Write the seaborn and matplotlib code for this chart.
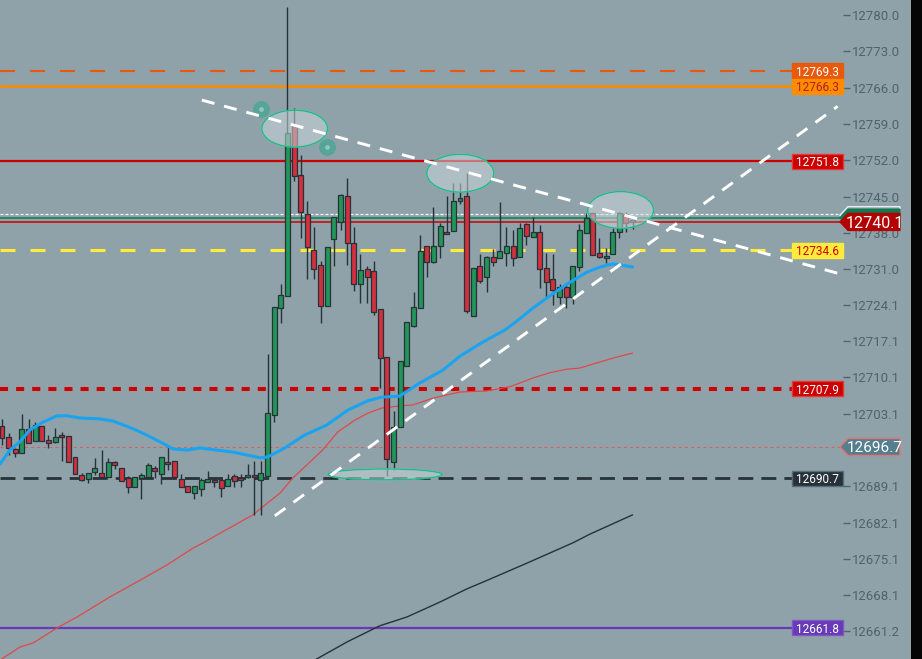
import numpy as np
import pandas as pd
import matplotlib
matplotlib.use("Agg")
import matplotlib.pyplot as plt
import matplotlib.transforms as mtransforms
from matplotlib.patches import Ellipse, Rectangle, Polygon
import seaborn as sns

# Candles (one per bar, left to right)
opens = [12700.7, 12698.6, 12696.3, 12695.5, 12700.2, 12697.8, 12700.7, 12697.8, 12697.7, 12699.0,
         12698.8, 12694.8, 12691.3, 12690.5, 12691.9, 12691.7, 12690.9, 12693.8, 12692.6, 12690.7,
         12689.0, 12690.7, 12690.9, 12692.6, 12691.5, 12693.8, 12694.0, 12690.5, 12689.2, 12687.8,
         12688.6, 12689.9, 12690.3, 12690.3, 12689.2, 12691.1, 12690.7, 12690.9, 12691.3, 12690.3,
         12691.1, 12702.9, 12723.5, 12725.8, 12758.6, 12749.1, 12741.6, 12734.7, 12731.8, 12723.9,
         12736.8, 12740.1, 12745.1, 12736.0, 12728.1, 12731.0, 12730.6, 12723.3, 12714.0, 12693.8,
         12700.5, 12712.3, 12720.0, 12723.5, 12735.4, 12732.4, 12735.4, 12738.1, 12738.3, 12744.1,
         12745.1, 12722.0, 12731.6, 12729.5, 12733.3, 12733.1, 12734.1, 12735.4, 12733.3, 12739.7,
         12737.2, 12738.1, 12731.2, 12729.1, 12725.6, 12727.5, 12725.6, 12731.4, 12738.0, 12741.8,
         12734.1, 12733.1, 12733.9, 12738.1, 12741.6, 12740.4]
highs = [12702.1, 12699.4, 12696.5, 12703.1, 12702.1, 12701.5, 12700.7, 12699.0, 12700.4, 12699.6,
         12698.8, 12694.8, 12691.7, 12691.7, 12694.6, 12696.1, 12694.6, 12694.0, 12692.6, 12691.1,
         12690.9, 12691.7, 12693.6, 12693.0, 12694.8, 12696.9, 12694.0, 12691.5, 12689.2, 12689.2,
         12690.7, 12692.1, 12690.7, 12690.5, 12691.5, 12691.5, 12691.5, 12693.4, 12694.0, 12694.0,
         12714.6, 12723.7, 12728.1, 12781.5, 12762.1, 12753.0, 12744.1, 12739.1, 12732.6, 12735.3,
         12741.0, 12745.5, 12748.6, 12739.1, 12733.9, 12731.6, 12732.6, 12723.3, 12714.0, 12703.6,
         12713.3, 12720.8, 12726.6, 12737.6, 12735.4, 12743.0, 12739.9, 12745.1, 12747.6, 12747.6,
         12749.5, 12731.2, 12733.9, 12733.5, 12734.9, 12743.9, 12739.1, 12738.5, 12739.9, 12739.9,
         12741.0, 12739.5, 12734.1, 12733.9, 12728.1, 12728.3, 12731.6, 12739.7, 12741.8, 12741.8,
         12737.0, 12735.1, 12739.1, 12742.0, 12742.0, 12740.5]
lows = [12697.1, 12695.1, 12694.8, 12695.5, 12697.5, 12697.8, 12697.8, 12696.5, 12697.5, 12694.0,
        12693.8, 12691.5, 12690.1, 12689.7, 12691.3, 12690.9, 12690.9, 12692.4, 12690.1, 12687.8,
        12689.0, 12686.7, 12690.5, 12690.7, 12689.6, 12692.3, 12690.9, 12689.0, 12688.0, 12686.7,
        12687.2, 12689.9, 12689.0, 12687.0, 12689.2, 12689.0, 12689.0, 12690.7, 12683.6, 12683.6,
        12691.1, 12701.5, 12720.6, 12725.8, 12748.0, 12737.0, 12729.1, 12729.1, 12720.6, 12723.9,
        12731.6, 12738.5, 12731.8, 12726.8, 12724.5, 12724.5, 12722.1, 12708.1, 12691.1, 12692.3,
        12700.5, 12712.3, 12719.8, 12723.5, 12729.5, 12732.2, 12733.1, 12737.8, 12738.3, 12743.5,
        12722.5, 12722.0, 12728.3, 12726.6, 12731.6, 12733.1, 12731.6, 12731.6, 12733.3, 12735.6,
        12737.2, 12727.4, 12725.6, 12724.1, 12724.3, 12723.5, 12724.3, 12730.6, 12738.0, 12733.7,
        12733.1, 12732.2, 12733.9, 12737.0, 12738.1, 12738.7]
closes = [12698.4, 12696.5, 12695.5, 12700.2, 12697.5, 12700.9, 12697.8, 12697.5, 12698.6, 12698.6,
          12693.8, 12691.5, 12690.3, 12691.7, 12692.6, 12690.9, 12693.8, 12693.2, 12690.1, 12689.0,
          12690.9, 12691.3, 12693.2, 12692.1, 12694.8, 12693.4, 12690.9, 12689.0, 12688.0, 12689.2,
          12690.3, 12690.5, 12689.9, 12688.8, 12690.5, 12690.1, 12690.3, 12691.3, 12690.9, 12691.7,
          12703.2, 12723.7, 12726.0, 12757.2, 12749.0, 12742.0, 12735.3, 12731.0, 12723.9, 12735.3,
          12741.0, 12745.3, 12736.0, 12728.1, 12730.8, 12729.5, 12722.7, 12713.9, 12694.4, 12700.5,
          12713.3, 12720.8, 12723.7, 12734.5, 12732.4, 12735.4, 12739.3, 12737.8, 12744.1, 12744.7,
          12722.9, 12731.2, 12728.7, 12733.3, 12732.4, 12734.5, 12735.4, 12733.1, 12738.9, 12737.4,
          12738.1, 12731.0, 12728.5, 12727.0, 12727.5, 12725.6, 12731.6, 12738.5, 12740.9, 12733.7,
          12733.3, 12733.5, 12738.1, 12741.8, 12739.9, 12740.1]

# Moving averages, read at bar positions
blue_ma_x = [-0.3, 1.2, 2.7, 4.2, 6.2, 8.3, 9.8, 11.7, 14.8, 16.7, 18.8, 20.8, 23.8, 25.8, 27.9,
             29.8, 34.8, 38.9, 40.1, 42.6, 45.6, 48.9, 52.1, 55.1, 57.2, 59.9, 62.9, 66.4, 69.0,
             72.0, 75.8, 77.6, 80.0, 82.5, 85.1, 88.1, 90.1, 92.0, 93.1, 95.0]
blue_ma_y = [12693.4, 12696.1, 12697.7, 12700.0, 12701.5, 12702.7, 12702.7, 12702.3, 12702.1, 12701.7,
             12700.7, 12699.6, 12697.7, 12696.3, 12696.1, 12696.5, 12695.7, 12694.6, 12694.8, 12696.5,
             12699.0, 12700.9, 12703.8, 12705.6, 12706.3, 12706.5, 12709.0, 12711.5, 12714.2, 12716.6,
             12719.3, 12721.0, 12723.5, 12725.8, 12728.1, 12730.4, 12731.4, 12732.0, 12731.8, 12731.4]
red_ma_x = [-0.3, 2.7, 4.7, 8.3, 11.3, 16.3, 20.8, 24.8, 28.8, 30.3, 34.3, 37.8, 40.4, 41.9, 43.8,
            45.9, 48.3, 50.6, 53.2, 55.1, 57.2, 59.9, 61.9, 64.9, 69.0, 73.0, 76.5, 80.0, 82.5, 85.1,
            87.0, 90.1, 93.1, 95.0]
red_ma_y = [12655.6, 12658.1, 12658.9, 12661.8, 12663.9, 12667.8, 12671.0, 12673.9, 12677.2, 12678.2,
            12681.1, 12683.6, 12686.3, 12687.8, 12690.7, 12693.2, 12696.1, 12699.6, 12701.9, 12703.2,
            12704.2, 12704.6, 12704.8, 12706.1, 12707.3, 12707.5, 12708.3, 12710.0, 12711.0, 12711.7,
            12711.9, 12713.1, 12714.2, 12714.8]
black_ma_x = [45.5, 47.4, 52.0, 56.9, 61.0, 66.0, 70.0, 73.5, 79.1, 86.0, 88.6, 95.0]
black_ma_y = [12654.0, 12655.8, 12659.1, 12662.2, 12663.9, 12666.8, 12669.3, 12671.2, 12674.3,
              12678.2, 12679.9, 12683.6]

# Horizontal price levels
level_values = [12769.3, 12766.3, 12751.8, 12734.6, 12707.9, 12690.7, 12661.8]
level_colors = ["#e8590c", "#fb8c00", "#cc0000", "#ffeb3b", "#cc0000", "#263238", "#673ab7"]
level_text = ["white", "#b71c1c", "white", "#d50000", "white", "white", "white"]
level_edges = ["#e8590c", "#fb8c00", "#e53935", "#ffeb3b", "#e53935", "#546e7a", "#7e57c2"]
last_price = 12740.1
green_level = 12740.9
dotted_level = 12741.6
ref_price = 12696.7

# Drawn trend lines: (bar, price) end points
trend_down = ([30.1, 125.9], [12763.6, 12730.2])
trend_up = ([41.1, 125.9], [12683.4, 12762.4])

# Highlight ellipses: center bar, center price, width (bars), height (price)
ell_x = [44.1, 69.05, 93.2, 57.7]
ell_y = [12758.1, 12749.5, 12742.4, 12691.4]
ell_w = [9.9, 10.1, 9.9, 17.2]
ell_h = [7.1, 7.3, 7.1, 2.1]
marker_x = [39.0, 48.9]
marker_y = [12761.9, 12754.5]

# 12696.1 sits under the 12696.7 tag in the reference, so it is left out
ytick_values = [12780.0, 12773.0, 12766.0, 12759.0, 12752.0, 12745.0, 12738.0, 12731.0, 12724.1,
                12717.1, 12710.1, 12703.1, 12689.1, 12682.1, 12675.1, 12668.1, 12661.2]

BG = "#8fa2aa"
GREEN = "#22965a"
RED = "#d32f3d"
EDGE = "#263238"

sns.set_style("white", rc={"axes.facecolor": BG, "figure.facecolor": BG})
plt.rcParams["font.family"] = ["Roboto", "DejaVu Sans"]
plt.rcParams["lines.scale_dashes"] = False

fig = plt.figure(figsize=(9.22, 6.59), dpi=100)
ax = fig.add_axes([0, 0, 843 / 922, 1])
ax.set_xlim(-0.3, 126.7)
ax.set_ylim(12655.8, 12782.9)
ppx = (12782.9 - 12655.8) / 659

# levels
ax.axhline(12769.3, color="#e8590c", lw=1.5, dashes=(10.8, 10.8), zorder=2)
ax.axhline(12766.3, color="#fb8c00", lw=1.9, zorder=2)
ax.axhline(12751.8, color="#cc0000", lw=1.6, zorder=2)
ax.axhline(dotted_level, color="white", lw=0.9, dashes=(2.2, 1.4), zorder=2)
ax.axhline(green_level, color="#15845a", lw=1.2, zorder=2)
ax.axhline(last_price, color="#cc0000", lw=1.1, zorder=2)
ax.axhline(12734.6, color="#ffeb3b", lw=2.2, dashes=(10.8, 10.8), zorder=2)
ax.axhline(12707.9, color="#cc0000", lw=2.9, dashes=(5.8, 5.8), zorder=2)
ax.axhline(ref_price, color="#e05a5a", lw=0.7, dashes=(2.2, 2.2), zorder=2)
ax.axhline(12690.7, color="#263238", lw=2.0, dashes=(10.8, 5.8), zorder=2)
ax.axhline(12661.8, color="#673ab7", lw=1.6, zorder=2)

# moving averages
sns.lineplot(x=black_ma_x, y=black_ma_y, ax=ax, color="#263238", lw=1.0, sort=False,
             estimator=None, zorder=2)
sns.lineplot(x=red_ma_x, y=red_ma_y, ax=ax, color="#e04848", lw=0.9, sort=False,
             estimator=None, zorder=2)
sns.lineplot(x=blue_ma_x, y=blue_ma_y, ax=ax, color="#1aa3ef", lw=2.2, sort=False,
             estimator=None, zorder=5)

# candles
o = np.array(opens)
c = np.array(closes)
idx = np.arange(len(o))
cols = np.where(c >= o, GREEN, RED)
ax.vlines(idx, lows, highs, color=EDGE, lw=1.0, zorder=3)
ax.bar(idx, np.maximum(np.abs(c - o), 0.45), bottom=np.minimum(o, c), width=0.75,
       color=cols, edgecolor=EDGE, linewidth=0.9, zorder=4)

# ellipses and markers
for ex, ey, ew, eh in zip(ell_x, ell_y, ell_w, ell_h):
    ax.add_patch(Ellipse((ex, ey), ew, eh, facecolor="#c8d6da", alpha=0.55, zorder=6))
    ax.add_patch(Ellipse((ex, ey), ew, eh, facecolor="none", edgecolor="#22b889", lw=1.1, zorder=6))
ax.scatter(marker_x, marker_y, s=150, color="#4ea596", alpha=0.85, zorder=6, linewidths=0)
ax.scatter(marker_x, marker_y, s=12, color="#8cc7bb", zorder=6, linewidths=0)

# trend lines
for tx, ty in (trend_down, trend_up):
    ax.plot(tx, ty, color="white", lw=2.1, dashes=(9.4, 7.2), zorder=7,
            solid_capstyle="butt", dash_capstyle="butt")

# right price axis
ax.set_xticks([])
ax.yaxis.tick_right()
ax.set_yticks(ytick_values)
ax.set_yticklabels([f"{v:.1f}" for v in ytick_values])
ax.tick_params(axis="y", length=5, width=1, color="#52616a", labelcolor="#52616a",
               labelsize=9.5, pad=1.5)
for s in ax.spines.values():
    s.set_visible(False)

blend = mtransforms.blended_transform_factory(ax.transAxes, ax.transData)


def tag(v, face, fg, edge):
    h = 15 * ppx
    ax.add_patch(Rectangle((792 / 843, v - h / 2), 51 / 843, h, transform=blend, facecolor=face,
                           edgecolor=edge, lw=1, clip_on=False, zorder=12))
    ax.text(817.5 / 843, v, f"{v:.1f}", transform=blend, ha="center", va="center_baseline",
            color=fg, fontsize=8.5, zorder=13, clip_on=False)


def arrow_tag(v, face, edge, fg, fs, label=True):
    h = 17 * ppx
    x0, x1, x2 = 840 / 843, 848 / 843, 900 / 843
    pts = [(x0, v), (x1, v + h / 2), (x2, v + h / 2), (x2, v - h / 2), (x1, v - h / 2)]
    ax.add_patch(Polygon(pts, closed=True, transform=blend, facecolor=face, edgecolor=edge,
                         lw=1, clip_on=False, zorder=12))
    if label:
        ax.text(875 / 843, v, f"{v:.1f}", transform=blend, ha="center", va="center_baseline",
                color=fg, fontsize=fs, zorder=13, clip_on=False)


for v, fc, tc, ec in zip(level_values, level_colors, level_text, level_edges):
    tag(v, fc, tc, ec)

# stacked tags behind the last price tag
arrow_tag(green_level + 0.5, BG, "#e8eef0", "white", 11, label=False)
arrow_tag(green_level, "#127a50", "#127a50", "white", 11, label=False)
arrow_tag(last_price, "#b30000", "#b30000", "white", 11.5)
arrow_tag(ref_price, "#557f8e", "#e57373", "white", 11)

# dark strip at the right edge
fig.patches.append(Rectangle((911 / 922, 0), 11 / 922, 1, transform=fig.transFigure,
                             facecolor="#050505", edgecolor="none", zorder=20))

fig.savefig("out.png", dpi=100, facecolor=BG)
